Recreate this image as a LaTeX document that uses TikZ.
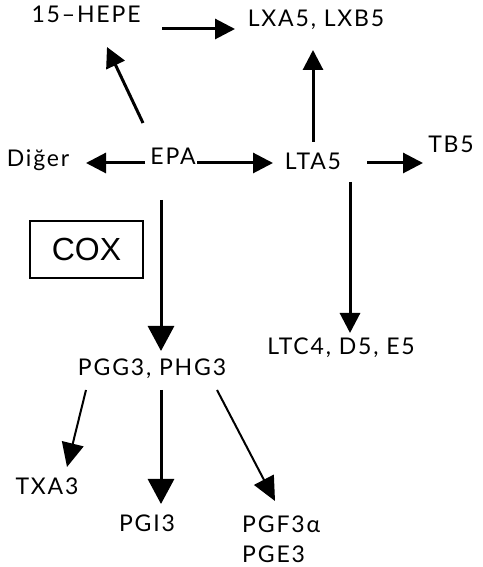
\documentclass[tikz,border=0pt]{standalone}
\usepackage{fontspec}
\newfontfamily\labelfont[LetterSpace=8]{Lato}
\newfontfamily\coxfont{Liberation Sans}
\usetikzlibrary{arrows.meta}

\begin{document}
\begin{tikzpicture}[
  x=1pt, y=1pt,
  every node/.style={font=\labelfont\fontsize{23}{30}\selectfont, inner sep=0pt},
  lbl/.style={anchor=base},
  arr/.style={draw, line width=3pt, -{Triangle[length=20pt,width=20pt]}},
  bigarr/.style={arr, -{Triangle[length=25pt,width=26pt]}},
  thinarr/.style={draw, line width=2pt, -{Triangle[length=24pt,width=22pt]}},
  enzyme/.style={draw, line width=1.6pt, minimum width=113pt, minimum height=57pt,
                 font=\coxfont\fontsize{32}{36}\selectfont}
]
\useasboundingbox (0,0) rectangle (482,567);

\node[lbl] (hepe)  at (86,544)  {15–HEPE};
\node[lbl] (lx)    at (316,540) {LXA5, LXB5};
\node[lbl] (diger) at (38,400)  {Diğer};
\node[lbl] (epa)   at (173,402) {EPA};
\node[lbl] (lta)   at (313,397) {LTA5};
\node[lbl] (tb)    at (451,414) {TB5};
\node[enzyme] (cox) at (86.5,317.5) {COX};
\node[lbl] (ltc)   at (341,212) {LTC4, D5, E5};
\node[lbl] (pgg)   at (152,191) {PGG3, PHG3};
\node[lbl] (txa)   at (47,72)   {TXA3};
\node[lbl] (pgi)   at (147,35)  {PGI3};
\node[anchor=north west, align=left] (pgf) at (242,51) {PGF3α\\PGE3};

\draw[arr] ([shift={(76,-6)}]hepe.base) -- ([shift={(-81,-2)}]lx.base);
\draw[arr] ([shift={(-30,42)}]epa.base) -- ([shift={(21,-24)}]hepe.base);
\draw[arr] ([yshift=28]lta.base) -- ([shift={(-3,-23)}]lx.base);
\draw[arr] ([shift={(-28,2)}]epa.base) -- ([shift={(48,4)}]diger.base);
\draw[arr] ([shift={(24,2)}]epa.base) -- ([shift={(-40,7)}]lta.base);
\draw[arr] ([shift={(54,7)}]lta.base) -- ([shift={(-28,-10)}]tb.base);
\draw[bigarr] ([shift={(-12,-35)}]epa.base) -- ([shift={(9,25)}]pgg.base);
\draw[arr] ([shift={(37,-12)}]lta.base) -- ([shift={(9,22)}]ltc.base);
\draw[thinarr] ([shift={(-66,-14)}]pgg.base) -- ([shift={(20,28)}]txa.base);
\draw[bigarr] ([shift={(9,-14)}]pgg.base) -- ([shift={(14,28)}]pgi.base);
\draw[thinarr] ([shift={(65,-14)}]pgg.base) -- ([shift={(33,15)}]pgf.north west);
\end{tikzpicture}
\end{document}
